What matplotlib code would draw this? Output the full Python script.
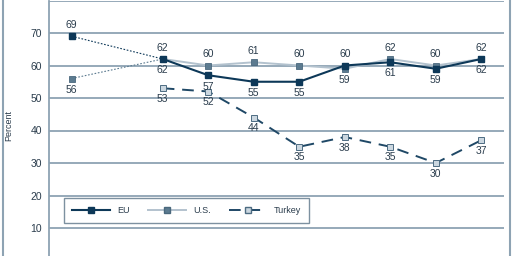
import matplotlib.pyplot as plt
from matplotlib.lines import Line2D

plt.rcParams['font.family'] = ['Liberation Sans', 'DejaVu Sans']

# survey waves (index positions on x axis), 1 is a missing wave
x_eu = [0, 2, 3, 4, 5, 6, 7, 8, 9]
eu = [69, 62, 57, 55, 55, 60, 61, 59, 62]
us = [56, 62, 60, 61, 60, 59, 62, 60, 62]
x_tr = [2, 3, 4, 5, 6, 7, 8, 9]
turkey = [53, 52, 44, 35, 38, 35, 30, 37]
yticks = [0, 10, 20, 30, 40, 50, 60, 70]

grid_c = '#8ea3b3'
eu_c = '#0d3858'
us_line = '#b3c2ce'
us_mk = '#5c7b90'
tr_line = '#1f4866'
tr_fill = '#cbd7e0'
txt_c = '#2a3c4c'

fig = plt.figure(figsize=(5.12, 2.56), dpi=100)
ax = fig.add_axes([49 / 512, -4.5 / 256, 455 / 512, 260 / 256])
ax.set_xlim(-0.5, 9.5)
ax.set_ylim(0, 80)

for y in yticks[1:] + [80]:
    ax.axhline(y, color=grid_c, lw=1.3, zorder=1)

# dotted connectors across missing wave
ax.plot(x_eu[:2], eu[:2], color=eu_c, lw=0.8, ls=(0, (1.5, 1.5)), zorder=3)
ax.plot(x_eu[:2], us[:2], color=us_mk, lw=0.8, ls=(0, (1.5, 1.5)), zorder=3)

ax.plot(x_eu[1:], us[1:], color=us_line, lw=1.4, zorder=3)
ax.plot(x_eu[1:], eu[1:], color=eu_c, lw=1.5, zorder=4)
ax.plot(x_tr, turkey, color=tr_line, lw=1.4, ls=(0, (6, 4)), zorder=3)

ax.plot(x_eu, us, ls='none', marker='s', ms=4.2, mfc=us_mk, mec='#4a687d', mew=0.6, zorder=5)
ax.plot(x_eu, eu, ls='none', marker='s', ms=4.2, mfc=eu_c, mec=eu_c, zorder=6)
ax.plot(x_tr, turkey, ls='none', marker='s', ms=4.2, mfc=tr_fill, mec='#4d6c82', mew=0.7, zorder=5)

for xi, e, u in zip(x_eu, eu, us):
    e_up = e > u
    ax.annotate(str(e), (xi, e), xytext=(0, 4.5 if e_up else -4.5), textcoords='offset points',
                ha='center', va='bottom' if e_up else 'top', fontsize=7.5, color=txt_c, zorder=7)
    ax.annotate(str(u), (xi, u), xytext=(0, -4.5 if e_up else 4.5), textcoords='offset points',
                ha='center', va='top' if e_up else 'bottom', fontsize=7.5, color=txt_c, zorder=7)
for xi, t in zip(x_tr, turkey):
    ax.annotate(str(t), (xi, t), xytext=(0, -4), textcoords='offset points',
                ha='center', va='top', fontsize=7.5, color=txt_c, zorder=7)

ax.set_yticks(yticks)
ax.set_yticklabels([str(v) for v in yticks])
ax.set_xticks([])
ax.tick_params(axis='y', length=0, pad=5, labelsize=7.5, labelcolor=txt_c)
for s in ['top', 'right', 'bottom']:
    ax.spines[s].set_visible(False)
ax.spines['left'].set_color(grid_c)
ax.spines['left'].set_linewidth(1.3)
ax.set_ylabel('Percent', fontsize=6.5, color=txt_c, labelpad=9)
ax.yaxis.set_label_coords(-36 / 455, 0.52)

handles = [
    Line2D([], [], color=eu_c, lw=1.5, marker='s', ms=4, mfc=eu_c, mec=eu_c),
    Line2D([], [], color=us_line, lw=1.4, marker='s', ms=4, mfc=us_mk, mec='#4a687d'),
    Line2D([], [], color=tr_line, lw=1.4, ls=(0, (6, 4)), marker='s', ms=4, mfc=tr_fill, mec='#4d6c82'),
]
leg = ax.legend(handles, ['EU', 'U.S.', 'Turkey'], ncol=3, loc='lower left',
                bbox_to_anchor=(15 / 455, (260.5 - 223) / 260), fontsize=6.5, frameon=True,
                fancybox=False, borderpad=0.9, borderaxespad=0, handlelength=4.2,
                columnspacing=2.0, labelcolor=txt_c)
leg.get_frame().set_edgecolor('#5d7689')
leg.get_frame().set_linewidth(1.0)

# outer border lines
fig.add_artist(Line2D([3 / 512, 3 / 512], [0, 1], color=grid_c, lw=1.5))
fig.add_artist(Line2D([510 / 512, 510 / 512], [0, 1], color=grid_c, lw=1.5))

fig.savefig('out.png', dpi=100)
